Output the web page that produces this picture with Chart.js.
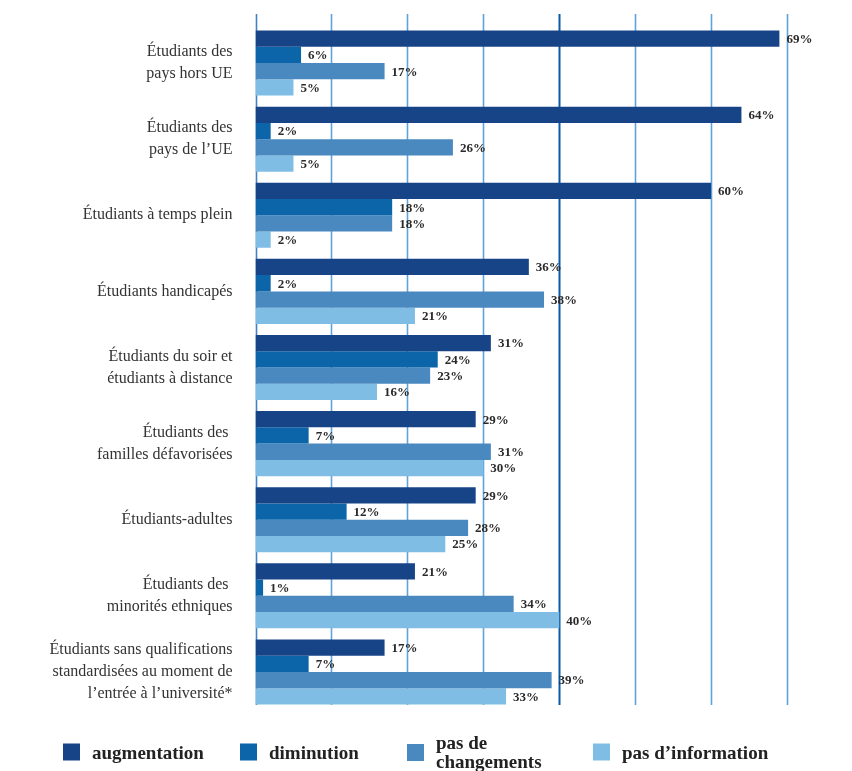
<!DOCTYPE html>
<html lang="fr">
<head>
<meta charset="utf-8">
<title>Étudiants – évolution</title>
<script src="https://cdn.jsdelivr.net/npm/chart.js@4.4.1/dist/chart.umd.min.js"></script>
<style>
  body { margin: 0; background: #fff; }
  #wrap { position: relative; width: 852px; height: 771px; }
  #legend { position: absolute; left: 0; top: 0; width: 852px; height: 771px; pointer-events: none; }
  .item { position: absolute; top: 752px; transform: translateY(-50%); display: flex; align-items: center; gap: 12px;
          font: bold 19px "Liberation Serif", serif; color: #222; line-height: 19px; }
  .sq { width: 17px; height: 17px; flex: none; }
</style>
</head>
<body>
<div id="wrap">
  <canvas id="graf" width="852" height="771"></canvas>
  <div id="legend"></div>
</div>
<script>
// categories (multi-line labels)
const categorias = [
  ['Étudiants des', 'pays hors UE'],
  ['Étudiants des', 'pays de l’UE'],
  'Étudiants à temps plein',
  'Étudiants handicapés',
  ['Étudiants du soir et', 'étudiants à distance'],
  ['Étudiants des ', 'familles défavorisées'],
  'Étudiants-adultes',
  ['Étudiants des ', 'minorités ethniques'],
  ['Étudiants sans qualifications', 'standardisées au moment de', 'l’entrée à l’université*']
];

// series values (%)
const augmentation   = [69, 64, 60, 36, 31, 29, 29, 21, 17];
const diminution     = [6, 2, 18, 2, 24, 7, 12, 1, 7];
const pasChangements = [17, 26, 18, 38, 23, 31, 28, 34, 39];
const pasInformation = [5, 5, 2, 21, 16, 30, 25, 40, 33];

const nomsSeries = ['augmentation', 'diminution', 'pas de changements', 'pas d’information'];
const couleurs = ['#174487', '#0b65a8', '#4a88c0', '#7fbde4'];

// vertical grid values
const grille = [0, 10, 20, 30, 40, 50, 60, 70];

// legend item positions (left px)
const legendeX = [63, 240, 407, 593];

// custom gridlines extending a bit beyond the bars
const pluginGrille = {
  id: 'grille',
  beforeDatasetsDraw(chart) {
    const ctx = chart.ctx;
    const x = chart.scales.x;
    ctx.save();
    grille.forEach(v => {
      const px = Math.round(x.getPixelForValue(v)) + 0.5;
      ctx.strokeStyle = v === 40 ? '#0a5ba6' : (v === 0 ? '#4282c0' : '#5fa3da');
      ctx.lineWidth = v === 40 ? 2 : 1.6;
      ctx.beginPath();
      ctx.moveTo(px, 14);
      ctx.lineTo(px, 705);
      ctx.stroke();
    });
    ctx.restore();
  }
};

// value labels at the end of each bar
const pluginValeurs = {
  id: 'valeurs',
  afterDatasetsDraw(chart) {
    const ctx = chart.ctx;
    ctx.save();
    ctx.font = 'bold 13px "Liberation Serif", serif';
    ctx.fillStyle = '#2a2a2a';
    ctx.textBaseline = 'middle';
    ctx.textAlign = 'left';
    chart.data.datasets.forEach((ds, i) => {
      chart.getDatasetMeta(i).data.forEach((bar, j) => {
        ctx.fillText(ds.data[j] + '%', bar.x + 7, bar.y + 1);
      });
    });
    ctx.restore();
  }
};

new Chart(document.getElementById('graf'), {
  type: 'bar',
  data: {
    labels: categorias,
    datasets: [augmentation, diminution, pasChangements, pasInformation].map((d, i) => ({
      label: nomsSeries[i],
      data: d,
      backgroundColor: couleurs[i],
      borderWidth: 0,
      categoryPercentage: 0.855,
      barPercentage: 1
    }))
  },
  options: {
    indexAxis: 'y',
    responsive: false,
    animation: false,
    layout: { padding: { left: 0, right: 65, top: 25, bottom: 61 } },
    plugins: {
      legend: { display: false },
      tooltip: { enabled: false }
    },
    scales: {
      x: {
        display: false,
        min: 0,
        max: 70
      },
      y: {
        grid: { display: false, drawTicks: false },
        border: { display: false },
        afterFit(scale) {
          scale.width = 255.5;
          scale.paddingTop = 0;
          scale.paddingBottom = 0;
        },
        ticks: {
          padding: 23,
          color: '#333',
          font: { family: '"Liberation Serif", serif', size: 16, lineHeight: 1.375 }
        }
      }
    }
  },
  plugins: [pluginGrille, pluginValeurs]
});

// HTML legend
const leg = document.getElementById('legend');
nomsSeries.forEach((nom, i) => {
  const it = document.createElement('div');
  it.className = 'item';
  it.style.left = legendeX[i] + 'px';
  const sq = document.createElement('div');
  sq.className = 'sq';
  sq.style.background = couleurs[i];
  const tx = document.createElement('div');
  tx.textContent = nom;
  if (i === 2) tx.style.width = '120px';
  it.appendChild(sq);
  it.appendChild(tx);
  leg.appendChild(it);
});
</script>
</body>
</html>
